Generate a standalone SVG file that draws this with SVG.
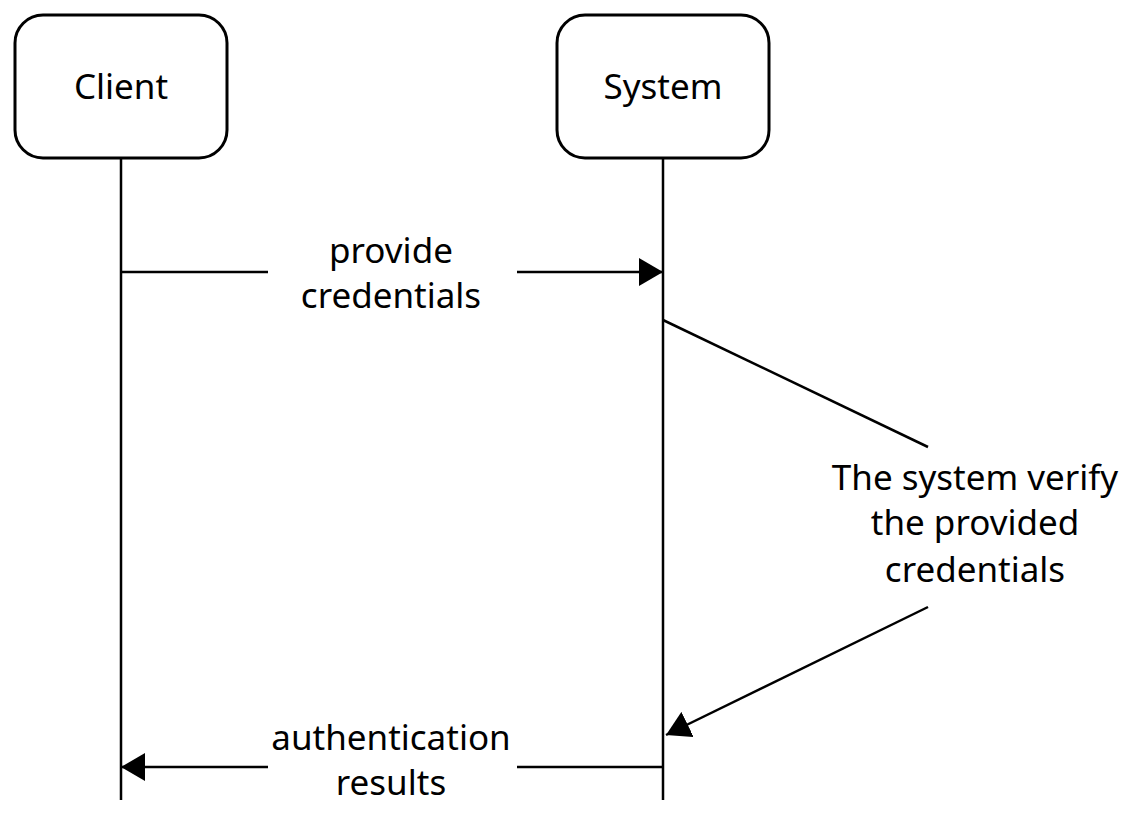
<svg xmlns="http://www.w3.org/2000/svg" width="1136" height="813" viewBox="0 0 1136 813">
<style>
.box{fill:#fff;stroke:#000;stroke-width:3}
.ln{fill:none;stroke:#000;stroke-width:2.5}
.t{font-family:"Noto Sans","Liberation Sans",sans-serif;font-size:35px;fill:#000;text-anchor:middle}
</style>
<defs>
<marker id="ah" viewBox="0 0 24 28" refX="24" refY="14" markerWidth="24" markerHeight="28" markerUnits="userSpaceOnUse" orient="auto">
<path d="M0,0 L24,14 L0,28 Z" fill="#000"/>
</marker>
</defs>
<rect width="1136" height="813" fill="#fff"/>
<g id="connectors">
<line class="ln" x1="121" y1="158" x2="121" y2="800"/>
<line class="ln" x1="663" y1="158" x2="663" y2="800"/>
<line class="ln" x1="121" y1="272" x2="268" y2="272"/>
<line class="ln" x1="517" y1="272" x2="663" y2="272" marker-end="url(#ah)"/>
<line class="ln" x1="663" y1="320" x2="928" y2="447"/>
<line class="ln" x1="928" y1="607" x2="666" y2="735" marker-end="url(#ah)"/>
<line class="ln" x1="663" y1="767" x2="517" y2="767"/>
<line class="ln" x1="268" y1="767" x2="121" y2="767" marker-end="url(#ah)"/>
</g>
<g id="client">
<rect class="box" x="15" y="15" width="212" height="143" rx="28"/>
<text class="t" x="121" y="99">Client</text>
</g>
<g id="system">
<rect class="box" x="557" y="15" width="212" height="143" rx="28"/>
<text class="t" x="663" y="99">System</text>
</g>
<g id="label-provide">
<text class="t" x="391" y="263">provide</text>
<text class="t" x="391" y="308">credentials</text>
</g>
<g id="label-verify">
<text class="t" x="975" y="490">The system verify</text>
<text class="t" x="975" y="535">the provided</text>
<text class="t" x="975" y="582">credentials</text>
</g>
<g id="label-results">
<text class="t" x="391" y="750">authentication</text>
<text class="t" x="391" y="795">results</text>
</g>
</svg>
